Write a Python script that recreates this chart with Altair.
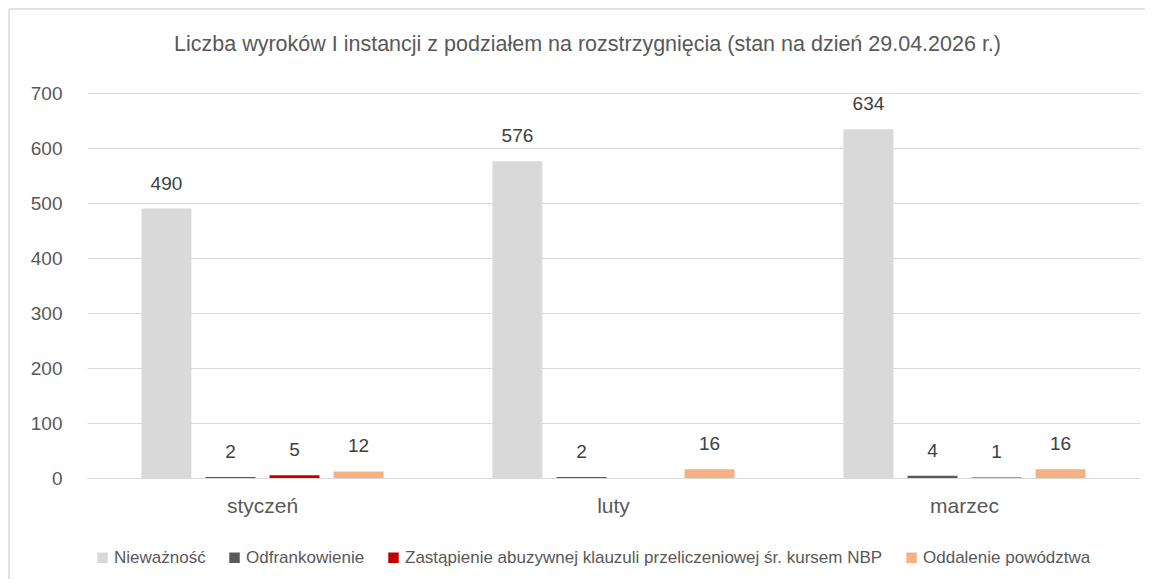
import altair as alt
import pandas as pd

months = ["styczeń", "styczeń", "styczeń", "styczeń",
          "luty", "luty", "luty",
          "marzec", "marzec", "marzec", "marzec"]
series = ["Nieważność", "Odfrankowienie",
          "Zastąpienie abuzywnej klauzuli przeliczeniowej śr. kursem NBP", "Oddalenie powództwa",
          "Nieważność", "Odfrankowienie", "Oddalenie powództwa",
          "Nieważność", "Odfrankowienie",
          "Zastąpienie abuzywnej klauzuli przeliczeniowej śr. kursem NBP", "Oddalenie powództwa"]
values = [490, 2, 5, 12,
          576, 2, 16,
          634, 4, 1, 16]

month_order = ["styczeń", "luty", "marzec"]
series_order = ["Nieważność", "Odfrankowienie",
                "Zastąpienie abuzywnej klauzuli przeliczeniowej śr. kursem NBP",
                "Oddalenie powództwa"]
colors = ["#D9D9D9", "#595959", "#C00000", "#F4B183"]

df = pd.DataFrame({"miesiac": months, "seria": series, "wartosc": values})

W, H = 1053, 385
FONT = "Liberation Sans"

x_enc = alt.X("miesiac:N", sort=month_order,
              scale=alt.Scale(paddingInner=0, paddingOuter=0),
              axis=alt.Axis(title=None, labelAngle=0, labelFontSize=21, labelColor="#595959",
                            labelPadding=17, ticks=False, domainColor="#D9D9D9", domainWidth=1,
                            labelFont=FONT))
xoff_enc = alt.XOffset("seria:N", sort=series_order,
                       scale=alt.Scale(paddingInner=0.22, paddingOuter=0.85))
y_enc = alt.Y("wartosc:Q", scale=alt.Scale(domain=[0, 700], nice=False),
              axis=alt.Axis(title=None, values=[0, 100, 200, 300, 400, 500, 600, 700],
                            labelFontSize=19, labelColor="#595959", labelPadding=25,
                            ticks=False, domain=False, gridColor="#D9D9D9", gridWidth=1,
                            labelFont=FONT))

base = alt.Chart(df)

bars = base.mark_bar().encode(
    x=x_enc, xOffset=xoff_enc, y=y_enc,
    color=alt.Color("seria:N", sort=series_order,
                    scale=alt.Scale(domain=series_order, range=colors),
                    legend=alt.Legend(title=None, orient="none", direction="horizontal",
                                      legendX=7, legendY=H + 71, symbolType="square",
                                      symbolSize=110, symbolStrokeWidth=0,
                                      labelFontSize=17, labelColor="#595959", labelFont=FONT,
                                      columnPadding=20, labelLimit=700, labelOffset=3))
)

labels = base.mark_text(baseline="middle", dy=-25, fontSize=19, color="#404040", font=FONT).encode(
    x=x_enc, xOffset=xoff_enc, y=y_enc, text="wartosc:Q"
)

frame_src = alt.Chart(pd.DataFrame({"k": [0]}))
border_top = frame_src.mark_rule(stroke="#D9D9D9", strokeWidth=1.5, clip=False).encode(
    x=alt.value(-78), x2=alt.value(W + 5), y=alt.value(-84)
)
border_left = frame_src.mark_rule(stroke="#D9D9D9", strokeWidth=1.5, clip=False).encode(
    x=alt.value(-78), y=alt.value(-84), y2=alt.value(H + 101)
)

chart = alt.layer(border_top, border_left, bars, labels).properties(
    width=W, height=H,
    title=alt.TitleParams("Liczba wyroków I instancji z podziałem na rozstrzygnięcia (stan na dzień 29.04.2026 r.)",
                          fontSize=21.5, fontWeight="normal", color="#595959", font=FONT,
                          anchor="middle", frame="group", offset=-47, dx=-26),
    autosize=alt.AutoSizeParams(type="none"),
    padding={"left": 79, "top": 85, "right": 5, "bottom": 101},
).configure(background="white").configure_view(stroke=None)

chart.save("out.html", embed_options={"renderer": "svg", "actions": False})
